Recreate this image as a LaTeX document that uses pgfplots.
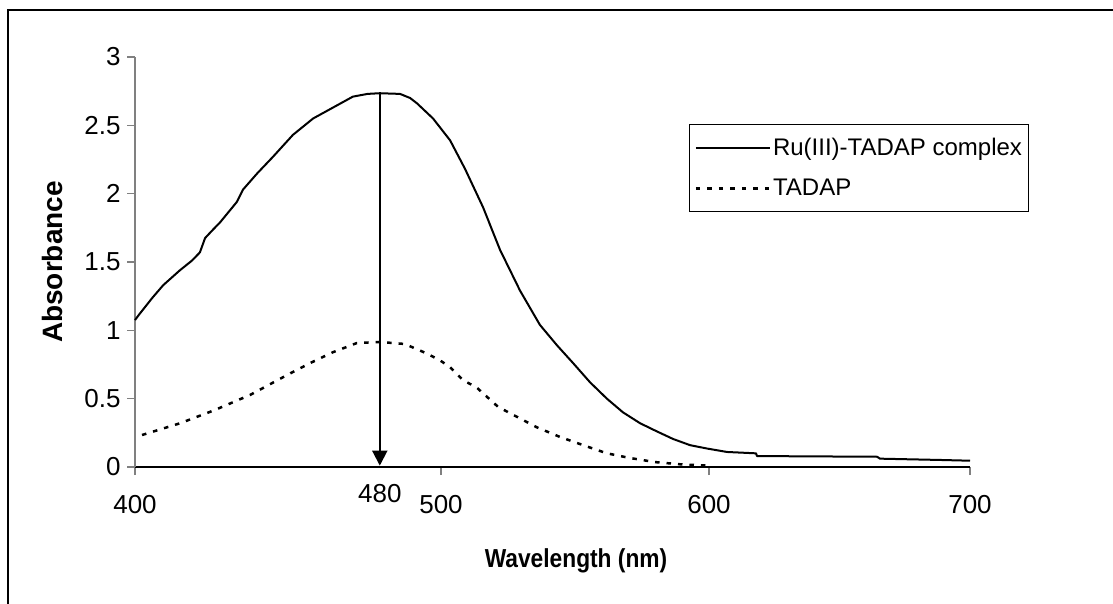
\documentclass[border=0pt]{standalone}
\usepackage{pgfplots}
\pgfplotsset{compat=1.18}
\usepackage{fontspec}
\setmainfont{Liberation Sans}
\usetikzlibrary{arrows.meta}

\begin{document}
\begin{tikzpicture}
\useasboundingbox (0,0) rectangle (1113pt,603pt);
% outer chart frame (left and top visible)
\draw[line width=2pt] (8pt,-20pt) -- (8pt,593pt) -- (1140pt,593pt);
\begin{axis}[
  at={(135pt,136pt)}, anchor=south west,
  scale only axis, width=835pt, height=410pt,
  xmin=400, xmax=700, ymin=0, ymax=3,
  x coord trafo/.code={\pgfmathparse{3.06*(min(#1,500)-400)+2.68*(max(min(#1,600),500)-500)+2.61*(max(#1,600)-600)}},
  axis x line*=bottom, axis y line*=left,
  x axis line style={black, line width=1.5pt},
  y axis line style={gray, line width=1.5pt},
  tick style={gray, line width=1.5pt},
  major tick length=8pt, tick align=outside,
  xtick={400,500,600,700}, xticklabels={400,500,600,700},
  ytick={0,0.5,1,1.5,2,2.5,3}, yticklabels={0,0.5,1,1.5,2,2.5,3},
  tick label style={font=\fontsize{26}{30}\selectfont},
  xticklabel style={yshift=-17pt},
  yticklabel style={xshift=-3pt},
  /pgf/number format/assume math mode=true,
  legend style={at={(0.6635,0.8366)}, anchor=north west, draw=black, line width=1pt,
    font=\fontsize{24}{29}\selectfont, inner xsep=5pt, inner ysep=12pt, row sep=18pt,
    legend cell align=left},
  legend image code/.code={\draw[#1] (0pt,0pt) -- (74pt,0pt);},
  clip=false,
]
\addplot[black, line width=2pt, line join=round] coordinates {
(400.0,1.075) (401.5,1.12) (405.6,1.236) (409.2,1.33) (414.7,1.44) (418.6,1.51) (421.2,1.57)
(422.9,1.675) (425.2,1.73) (427.8,1.79) (433.3,1.94) (435.3,2.03) (440.0,2.15) (445.1,2.27)
(451.6,2.43) (458.2,2.55) (464.7,2.63) (471.2,2.71) (476.0,2.73) (480.0,2.735) (486.6,2.73)
(489.9,2.70) (492.2,2.66) (497.4,2.55) (503.4,2.39) (509.0,2.18) (515.7,1.90)
(522.0,1.59) (529.5,1.29) (536.9,1.04) (543.3,0.89) (549.3,0.76) (555.6,0.62)
(561.9,0.50) (567.9,0.40) (574.3,0.32) (580.6,0.26) (586.6,0.205) (592.9,0.16)
(599.3,0.135) (606.9,0.11) (618.0,0.10) (618.4,0.08) (664.4,0.075) (665.5,0.061)
(689.7,0.051) (700,0.046)
};
\addlegendentry{Ru(III)-TADAP complex}
\addplot[black, line width=2.5pt, dash pattern=on 4.5pt off 7pt] coordinates {
(402.3,0.234) (414.7,0.32) (426.1,0.417) (433.7,0.49) (437.6,0.527) (449.7,0.673)
(457.2,0.76) (464.7,0.84) (472.5,0.907) (480.0,0.915) (488.2,0.90) (495.4,0.83)
(499.7,0.78) (503.4,0.73) (508.2,0.636) (513.4,0.58) (521.3,0.44) (535.8,0.29)
(544.4,0.22) (553.0,0.16) (561.9,0.10) (570.5,0.066) (579.8,0.036) (589.1,0.02)
(599.6,0.01)
};
\addlegendentry{TADAP}
\draw[-{Triangle[width=15pt,length=15pt]}, line width=2pt] (axis cs:480,2.735) -- (axis cs:480,0.01);
\node[font=\fontsize{26}{30}\selectfont] at (axis cs:480,0) [yshift=-27pt] {480};
\end{axis}
\node[rotate=90, font=\bfseries\fontsize{28}{32}\selectfont] at (52pt,341pt) {Absorbance};
\node[font=\bfseries\fontsize{26}{30}\selectfont, xscale=0.875] at (576pt,42pt) {Wavelength (nm)};
\end{tikzpicture}
\end{document}
